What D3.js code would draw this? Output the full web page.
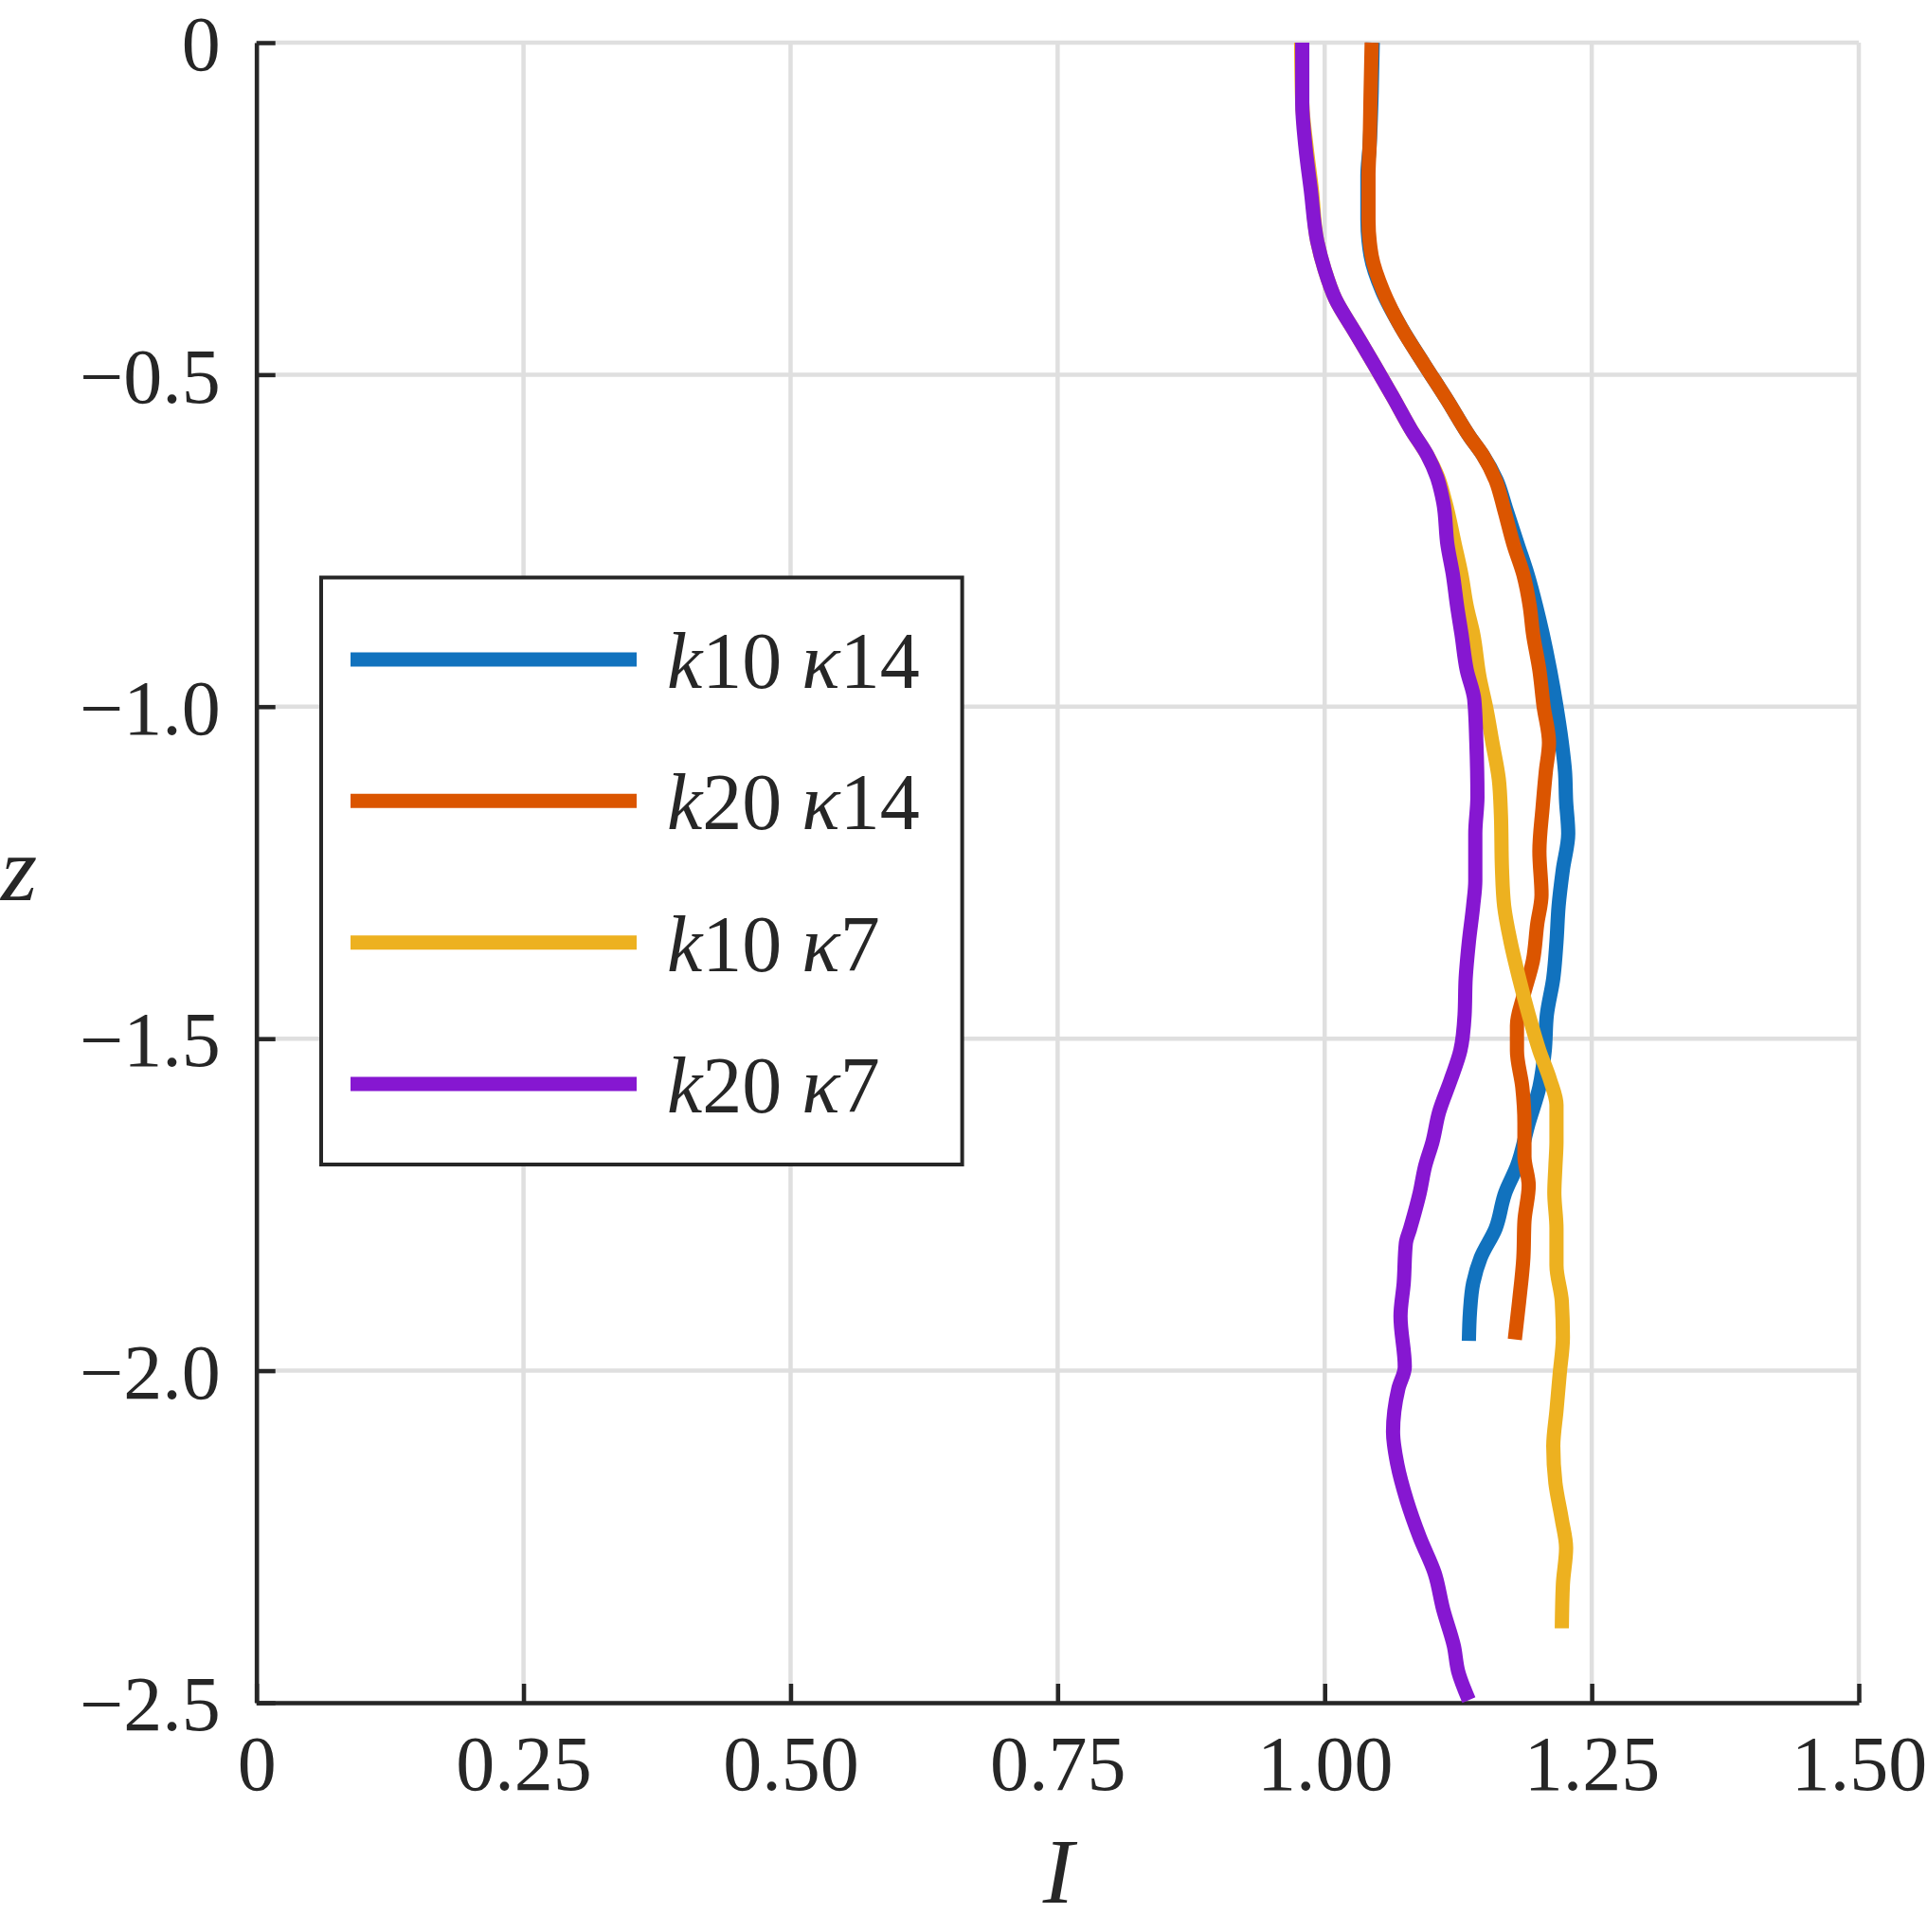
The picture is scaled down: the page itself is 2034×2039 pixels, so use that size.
<!DOCTYPE html>
<html>
<head>
<meta charset="utf-8">
<script src="https://cdn.jsdelivr.net/npm/d3@7"></script>
<style>
  html, body { margin: 0; padding: 0; background: #ffffff; }
  svg { display: block; }
</style>
</head>
<body>
<svg id="chart" width="2034" height="2039"></svg>
<script>
// ---------------- DATA ----------------
const seriesLabels = [
  { k: "10", kappa: "14" },
  { k: "20", kappa: "14" },
  { k: "10", kappa: "7" },
  { k: "20", kappa: "7" }
];
const seriesColors = ["#1172BE", "#DB5500", "#EDB120", "#8617D1"];

const xTicks = [0, 0.25, 0.5, 0.75, 1.0, 1.25, 1.5];
const xTickLabels = ["0", "0.25", "0.50", "0.75", "1.00", "1.25", "1.50"];
const yTicks = [0, -0.5, -1.0, -1.5, -2.0, -2.5];
const yTickLabels = ["0", "\u22120.5", "\u22121.0", "\u22121.5", "\u22122.0", "\u22122.5"];

// [z, I] pairs
const k10k14 = [
  [0, 1.045], [-0.075, 1.044], [-0.157, 1.042], [-0.200, 1.040], [-0.266, 1.040],
  [-0.321, 1.043], [-0.375, 1.054], [-0.430, 1.072], [-0.484, 1.093], [-0.539, 1.115],
  [-0.594, 1.136], [-0.621, 1.148], [-0.659, 1.161], [-0.703, 1.170], [-0.757, 1.181],
  [-0.801, 1.190], [-0.849, 1.198], [-0.890, 1.204], [-0.945, 1.211], [-1.000, 1.217],
  [-1.054, 1.222], [-1.098, 1.225], [-1.142, 1.226], [-1.191, 1.228], [-1.245, 1.223],
  [-1.300, 1.219], [-1.354, 1.217], [-1.409, 1.214], [-1.464, 1.208], [-1.518, 1.206],
  [-1.573, 1.201], [-1.627, 1.191], [-1.692, 1.180], [-1.732, 1.169], [-1.786, 1.160],
  [-1.830, 1.146], [-1.868, 1.139], [-1.912, 1.136], [-1.955, 1.135]
];
const k20k14 = [
  [0, 1.044], [-0.075, 1.043], [-0.157, 1.042], [-0.200, 1.041], [-0.266, 1.041],
  [-0.321, 1.044], [-0.375, 1.055], [-0.430, 1.072], [-0.484, 1.093], [-0.539, 1.115],
  [-0.594, 1.136], [-0.621, 1.148], [-0.659, 1.160], [-0.703, 1.168], [-0.757, 1.177],
  [-0.801, 1.186], [-0.849, 1.192], [-0.890, 1.195], [-0.945, 1.201], [-1.000, 1.205],
  [-1.054, 1.210], [-1.098, 1.207], [-1.152, 1.204], [-1.218, 1.201], [-1.283, 1.203],
  [-1.327, 1.199], [-1.382, 1.195], [-1.436, 1.186], [-1.480, 1.180], [-1.518, 1.180],
  [-1.573, 1.185], [-1.627, 1.187], [-1.677, 1.187], [-1.721, 1.191], [-1.775, 1.187],
  [-1.830, 1.186], [-1.896, 1.182], [-1.953, 1.178]
];
const k10k7 = [
  [0, 0.978], [-0.091, 0.979], [-0.157, 0.983], [-0.222, 0.988], [-0.299, 0.993],
  [-0.342, 1.000], [-0.386, 1.010], [-0.435, 1.028], [-0.484, 1.046], [-0.534, 1.064],
  [-0.583, 1.081], [-0.621, 1.096], [-0.654, 1.106], [-0.692, 1.113], [-0.757, 1.122],
  [-0.801, 1.128], [-0.849, 1.133], [-0.890, 1.139], [-0.956, 1.145], [-1.000, 1.151],
  [-1.054, 1.157], [-1.109, 1.163], [-1.163, 1.165], [-1.245, 1.166], [-1.300, 1.168],
  [-1.354, 1.174], [-1.409, 1.182], [-1.464, 1.191], [-1.518, 1.201], [-1.562, 1.211],
  [-1.600, 1.217], [-1.655, 1.217], [-1.692, 1.216], [-1.732, 1.215], [-1.786, 1.217],
  [-1.841, 1.217], [-1.896, 1.222], [-1.950, 1.223], [-2.005, 1.220], [-2.060, 1.217],
  [-2.114, 1.214], [-2.169, 1.216], [-2.224, 1.222], [-2.267, 1.226], [-2.322, 1.223],
  [-2.388, 1.222]
];
const k20k7 = [
  [0, 0.979], [-0.091, 0.979], [-0.157, 0.982], [-0.222, 0.987], [-0.299, 0.993],
  [-0.342, 1.000], [-0.386, 1.010], [-0.435, 1.028], [-0.484, 1.046], [-0.534, 1.064],
  [-0.583, 1.081], [-0.621, 1.096], [-0.654, 1.105], [-0.692, 1.111], [-0.757, 1.115],
  [-0.801, 1.120], [-0.849, 1.124], [-0.890, 1.128], [-0.945, 1.133], [-0.989, 1.140],
  [-1.054, 1.142], [-1.136, 1.143], [-1.191, 1.141], [-1.262, 1.141], [-1.300, 1.139],
  [-1.354, 1.135], [-1.409, 1.132], [-1.464, 1.131], [-1.518, 1.127], [-1.562, 1.118],
  [-1.611, 1.107], [-1.655, 1.101], [-1.692, 1.094], [-1.732, 1.089], [-1.786, 1.080],
  [-1.808, 1.076], [-1.868, 1.074], [-1.918, 1.071], [-1.994, 1.075], [-2.027, 1.069],
  [-2.092, 1.064], [-2.141, 1.068], [-2.196, 1.077], [-2.251, 1.089], [-2.305, 1.103],
  [-2.360, 1.111], [-2.415, 1.121], [-2.453, 1.125], [-2.496, 1.135]
];
const seriesData = [k10k14, k20k14, k10k7, k20k7];

// ---------------- LAYOUT ----------------
const FONT = "'Liberation Serif', 'Times New Roman', Times, serif";
const AX = "#262626";
const plot = { left: 270.7, right: 1962, top: 45, bottom: 1797 };

const svg = d3.select("#chart");
const x = d3.scaleLinear().domain([0, 1.5]).range([plot.left, plot.right]);
const y = d3.scaleLinear().domain([-2.5, 0]).range([plot.bottom, plot.top]);

// grid
const grid = svg.append("g");
grid.selectAll("line.gx").data(xTicks).join("line")
  .attr("x1", d => x(d)).attr("x2", d => x(d))
  .attr("y1", plot.top).attr("y2", plot.bottom)
  .attr("stroke", "#dfdfdf").attr("stroke-width", 4.5);
grid.selectAll("line.gy").data(yTicks).join("line")
  .attr("x1", plot.left).attr("x2", plot.right)
  .attr("y1", d => y(d)).attr("y2", d => y(d))
  .attr("stroke", "#dfdfdf").attr("stroke-width", 4.5);

// axes
const xAxis = d3.axisBottom(x).tickValues(xTicks)
  .tickFormat((d, i) => xTickLabels[i]).tickSizeInner(-20).tickSizeOuter(0).tickPadding(34);
const yAxis = d3.axisLeft(y).tickValues(yTicks)
  .tickFormat((d, i) => yTickLabels[i]).tickSizeInner(-20).tickSizeOuter(0).tickPadding(38);

const gx = svg.append("g").attr("transform", `translate(0,${plot.bottom})`).call(xAxis);
const gy = svg.append("g").attr("transform", `translate(${plot.left},0)`).call(yAxis);
[gx, gy].forEach(g => {
  g.select(".domain").attr("stroke", AX).attr("stroke-width", 4.5);
  g.selectAll(".tick line").attr("stroke", AX).attr("stroke-width", 4.5);
  g.selectAll(".tick text").attr("fill", AX).style("font-family", FONT).style("font-size", "82px");
});
gy.selectAll(".tick text").attr("dy", "0.35em");

// lines
const line = d3.line().x(d => x(d[1])).y(d => y(d[0])).curve(d3.curveMonotoneY);
const linesG = svg.append("g");
seriesData.forEach((s, i) => {
  linesG.append("path").datum(s)
    .attr("d", line)
    .attr("fill", "none")
    .attr("stroke", seriesColors[i])
    .attr("stroke-width", 15)
    .attr("stroke-linecap", "butt")
    .attr("stroke-linejoin", "round");
});

// axis labels
svg.append("text").attr("x", 1).attr("y", 950)
  .style("font-family", FONT).style("font-size", "98px").style("font-style", "italic")
  .attr("fill", AX).text("z");
svg.append("text").attr("x", 1117).attr("y", 2008).attr("text-anchor", "middle")
  .style("font-family", FONT).style("font-size", "98px").style("font-style", "italic")
  .attr("fill", AX).text("I");

// legend
const lg = svg.append("g");
lg.append("rect").attr("x", 339).attr("y", 609.5).attr("width", 676.6).attr("height", 619.5)
  .attr("fill", "#ffffff").attr("stroke", AX).attr("stroke-width", 4);
const legY = d3.scaleLinear().domain([0, 3]).range([696, 1144]);
seriesLabels.forEach((lab, i) => {
  const yy = legY(i);
  lg.append("line").attr("x1", 370).attr("x2", 672).attr("y1", yy).attr("y2", yy)
    .attr("stroke", seriesColors[i]).attr("stroke-width", 15);
  const t = lg.append("text").attr("x", 704).attr("y", yy + 30)
    .style("font-family", FONT).style("font-size", "84px").attr("fill", AX);
  t.append("tspan").style("font-style", "italic").text("k");
  t.append("tspan").text(lab.k + " ");
  t.append("tspan").style("font-style", "italic").text("\u03BA");
  t.append("tspan").text(lab.kappa);
});
</script>
</body>
</html>
